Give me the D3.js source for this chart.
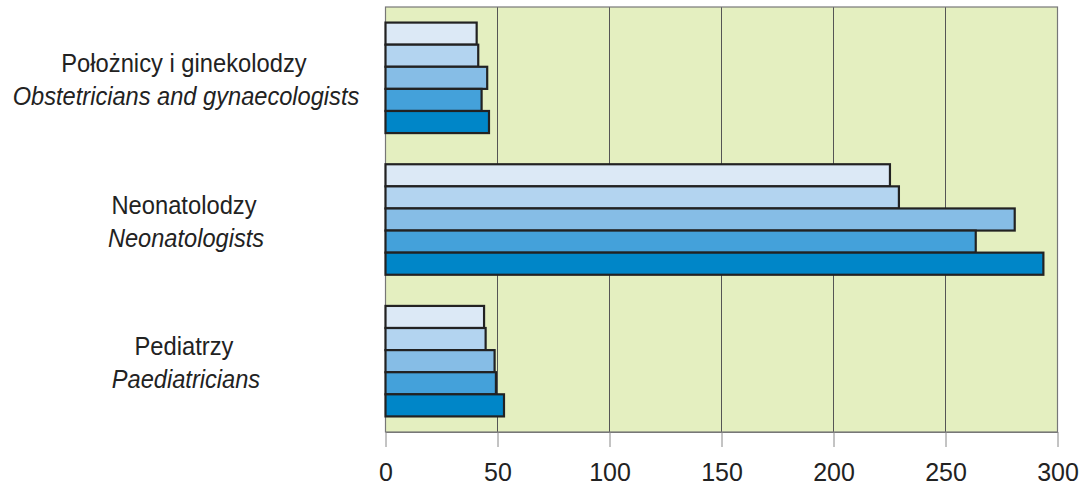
<!DOCTYPE html>
<html><head><meta charset="utf-8">
<script src="https://cdn.jsdelivr.net/npm/d3@7"></script>
<style>body{margin:0;background:#fff;} svg{display:block;}</style>
</head><body>
<svg id="c" width="1091" height="486"></svg>
<script>
const categoriesPl = ["Położnicy i ginekolodzy", "Neonatolodzy", "Pediatrzy"];
const categoriesEn = ["Obstetricians and gynaecologists", "Neonatologists", "Paediatricians"];
const seriesNames = ["s1", "s2", "s3", "s4", "s5"];
const s1 = [40.7, 225.2, 44.0];
const s2 = [41.4, 229.2, 44.7];
const s3 = [45.4, 280.9, 48.7];
const s4 = [42.9, 263.5, 49.3];
const s5 = [46.2, 293.7, 52.9];
const seriesValues = [s1, s2, s3, s4, s5];
const xTicks = [0, 50, 100, 150, 200, 250, 300];
const colors = ["#dce9f6", "#b3d4f0", "#86bde6", "#44a1da", "#0086c8"];

const font = "'Liberation Sans Narrow', 'Arial Narrow', 'Liberation Sans', sans-serif";
const svg = d3.select("#c");
const L = 385.5, R = 1057.5, T = 7, B = 432;
const x = d3.scaleLinear().domain([0, 300]).range([L, R]);
const y = d3.scaleBand().domain(d3.range(3)).range([T, B]).paddingInner(0.22).paddingOuter(0.11);
const y1 = d3.scaleBand().domain(d3.range(5)).range([0, y.bandwidth()]);

svg.append("rect").attr("x", L).attr("y", T).attr("width", R - L).attr("height", B - T)
  .attr("fill", "#e4efc0");

// grid
svg.append("g").selectAll("line").data(xTicks.slice(1, -1)).join("line")
  .attr("x1", d => x(d)).attr("x2", d => x(d)).attr("y1", T).attr("y2", B)
  .attr("stroke", "#555").attr("stroke-width", 1);

// frame
svg.append("rect").attr("x", L).attr("y", T).attr("width", R - L).attr("height", B - T)
  .attr("fill", "none").attr("stroke", "#777").attr("stroke-width", 1.2);

// axis
const ax = svg.append("g").attr("transform", `translate(0,${B})`)
  .call(d3.axisBottom(x).tickValues(xTicks).tickSize(15).tickPadding(16).tickSizeOuter(0));
ax.select(".domain").attr("stroke", "#777");
ax.selectAll(".tick line").attr("stroke", "#888");
ax.selectAll(".tick text").attr("font-family", font).attr("font-size", 25).attr("fill", "#222");

// bars
const g = svg.append("g");
seriesValues.forEach((vals, si) => {
  g.append("g").selectAll("rect").data(vals).join("rect")
    .attr("x", x(0))
    .attr("y", (d, i) => y(i) + y1(si))
    .attr("width", d => x(d) - x(0))
    .attr("height", y1.bandwidth())
    .attr("fill", colors[si])
    .attr("stroke", "#222").attr("stroke-width", 2.2);
});

// category labels
const lab = svg.append("g");
categoriesPl.forEach((c, i) => {
  const cy = y(i) + y.bandwidth() / 2;
  lab.append("text").attr("transform", `translate(184,${cy - 6}) scale(0.95,1)`).attr("text-anchor", "middle")
    .attr("font-family", font).attr("font-size", 25).attr("fill", "#222").text(c);
  lab.append("text").attr("transform", `translate(186,${cy + 27}) scale(0.945,1)`).attr("text-anchor", "middle")
    .attr("font-family", font).attr("font-style", "italic").attr("font-size", 25).attr("fill", "#222").text(categoriesEn[i]);
});
</script>
</body></html>
